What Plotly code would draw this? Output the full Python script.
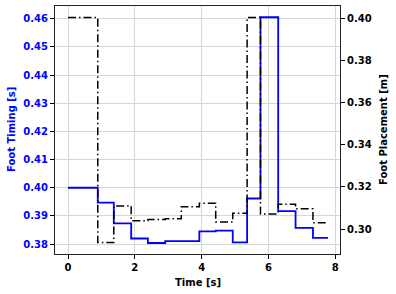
import plotly.graph_objects as go

# step boundaries [s]
step_times = [0, 0.89, 1.37, 1.89, 2.39, 2.91, 3.39, 3.93, 4.42, 4.93, 5.36, 5.76, 6.29, 6.81, 7.33, 7.78]
# foot timing per interval [s]
foot_timing = [0.400, 0.3947, 0.3874, 0.3820, 0.3804, 0.3811, 0.3811, 0.3845, 0.3848, 0.3806,
               0.3962, 0.4605, 0.3917, 0.3858, 0.3822]
# foot placement per interval [m]
foot_placement = [0.4003, 0.2936, 0.3110, 0.3040, 0.3046, 0.3049, 0.3106, 0.3123, 0.3034, 0.3075,
                  0.4003, 0.3072, 0.3118, 0.3096, 0.3030]

x_ticks = [0, 2, 4, 6, 8]
left_ticks = [0.38, 0.39, 0.40, 0.41, 0.42, 0.43, 0.44, 0.45, 0.46]
right_ticks = [0.30, 0.32, 0.34, 0.36, 0.38, 0.40]

font = dict(family="DejaVu Sans", size=10, color="black")

fig = go.Figure()
fig.add_trace(go.Scatter(
    x=step_times, y=foot_timing + [foot_timing[-1]], mode="lines",
    line=dict(color="#0000ff", width=1.8, shape="hv"), yaxis="y", showlegend=False))
fig.add_trace(go.Scatter(
    x=step_times, y=foot_placement + [foot_placement[-1]], mode="lines",
    line=dict(color="black", width=1.5, shape="hv", dash="8px,3px,1.5px,3px"),
    yaxis="y2", showlegend=False))

fig.update_layout(
    width=396, height=294,
    margin=dict(l=55, r=56, t=6, b=40, autoexpand=False),
    paper_bgcolor="white", plot_bgcolor="white",
    font=font,
    xaxis=dict(
        range=[-0.39, 8.14], tickvals=x_ticks, ticktext=[str(v) for v in x_ticks],
        showline=True, linecolor="#222222", linewidth=1.2, mirror=True,
        ticks="outside", ticklen=4, tickcolor="black", tickwidth=1,
        showgrid=True, gridcolor="#d6d6d6", gridwidth=0.8,
        tickfont=dict(family="DejaVu Sans", size=10, color="black", weight="bold"),
        automargin=False, zeroline=False,
    ),
    yaxis=dict(
        range=[0.3765, 0.4645], tickvals=left_ticks, ticktext=["%.2f" % v for v in left_ticks],
        showline=True, linecolor="#222222", linewidth=1.2,
        ticks="outside", ticklen=4, tickcolor="black", tickwidth=1,
        showgrid=True, gridcolor="#d6d6d6", gridwidth=0.8,
        tickfont=dict(family="DejaVu Sans", size=10, color="#0000ff", weight="bold"),
        automargin=False, zeroline=False,
    ),
    yaxis2=dict(
        range=[0.2882, 0.4057], tickvals=right_ticks, ticktext=["%.2f" % v for v in right_ticks],
        overlaying="y", side="right",
        showline=True, linecolor="#222222", linewidth=1.2,
        ticks="outside", ticklen=4, tickcolor="black", tickwidth=1,
        showgrid=False,
        tickfont=dict(family="DejaVu Sans", size=10, color="black", weight="bold"),
        automargin=False, zeroline=False,
    ),
    annotations=[
        dict(text="<b>Time [s]</b>", xref="paper", yref="paper", x=0.5, y=0, yshift=-28,
             showarrow=False, xanchor="center", yanchor="middle",
             font=dict(family="DejaVu Sans", size=10, color="black")),
        dict(text="<b>Foot Timing [s]</b>", xref="paper", yref="paper", x=0, y=0.5, xshift=-44,
             showarrow=False, xanchor="center", yanchor="middle", textangle=-90,
             font=dict(family="DejaVu Sans", size=10, color="#0000ff")),
        dict(text="<b>Foot Placement [m]</b>", xref="paper", yref="paper", x=1, y=0.5, xshift=43,
             showarrow=False, xanchor="center", yanchor="middle", textangle=-90,
             font=dict(family="DejaVu Sans", size=10, color="black")),
    ],
)

fig.write_html("out.html", config={"displayModeBar": False},
               post_script="document.body.style.margin='0';document.body.style.overflow='hidden';")
